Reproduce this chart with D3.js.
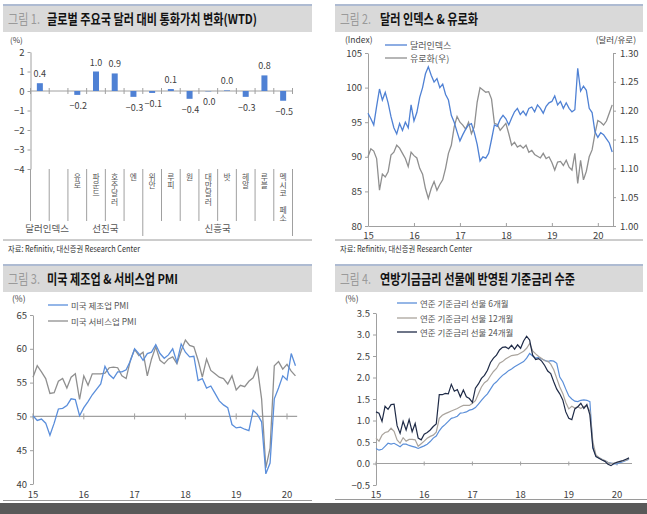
<!DOCTYPE html>
<html><head><meta charset="utf-8">
<script src="https://cdn.jsdelivr.net/npm/d3@7"></script>
<style>
body{margin:0;background:#fff}
svg{display:block}
text{font-family:"Noto Sans CJK KR","Noto Sans",sans-serif}
.vert{writing-mode:vertical-rl;text-orientation:upright}
</style>
</head><body>
<svg id="c" width="647" height="514"></svg>
<script>
// ---------------- DATA ----------------
// Figure 1: WTD change vs USD (%)
const wtdLabels = ["", "", "유로", "파운드", "호주달러", "엔", "위안", "루피", "원", "대만달러", "밧", "헤알", "루블", "멕시코\u3000페소"];
const wtdValues = [0.4, null, -0.2, 1.0, 0.9, -0.3, -0.1, 0.1, -0.4, -0.02, 0.03, -0.3, 0.8, -0.5];
const wtdGroupNames = ["달러인덱스", "선진국", "신흥국"];
const wtdGroupStarts = [0, 2, 6];
const wtdGroupEnds = [2, 6, 14];
const wtdTicks = [2, 1, 0, -1, -2, -3, -4];

// Figure 2: Dollar index & EUR/USD (step 1/16 year from "15")
const fxStart = 15, fxStep = 1 / 16;
const dxyValues = [96.3,95.5,94.6,97.3,99.8,98.2,99.3,97.8,95.8,94.2,
 93.3,94.8,93.8,95.0,94.2,97.5,95.2,96.4,98.6,100.0,
 102.0,103.0,101.8,100.8,101.3,100.0,100.5,99.0,98.2,96.0,
 95.0,93.6,92.3,93.2,94.0,94.6,94.8,93.5,91.8,89.4,
 90.0,89.8,90.5,92.5,94.6,94.4,95.4,96.0,95.5,94.6,
 95.6,96.5,97.0,96.1,96.6,96.0,97.0,97.2,96.5,97.5,
 97.0,96.3,97.3,97.8,98.0,98.8,97.5,98.0,97.0,97.8,
 97.0,96.5,96.8,102.8,99.5,100.2,99.6,97.0,96.4,93.6,
 92.8,93.5,93.2,92.6,92.0,90.7];
const eurValues = [1.120,1.134,1.130,1.117,1.062,1.090,1.085,1.094,1.123,1.128,
 1.140,1.135,1.126,1.117,1.103,1.128,1.122,1.118,1.100,1.090,
 1.065,1.048,1.065,1.077,1.062,1.072,1.080,1.100,1.126,1.140,
 1.172,1.190,1.180,1.175,1.168,1.180,1.160,1.172,1.215,1.240,
 1.236,1.232,1.233,1.220,1.178,1.176,1.166,1.172,1.178,1.160,
 1.140,1.145,1.137,1.140,1.135,1.140,1.128,1.131,1.124,1.121,
 1.118,1.126,1.117,1.120,1.110,1.097,1.111,1.112,1.105,1.114,
 1.102,1.097,1.126,1.074,1.114,1.080,1.095,1.120,1.132,1.160,
 1.183,1.180,1.175,1.182,1.196,1.210];
const fxLeftTicks = [80, 85, 90, 95, 100, 105];
const fxRightTicks = [1.00, 1.05, 1.10, 1.15, 1.20, 1.25, 1.30];
const yearTicks = [15, 16, 17, 18, 19, 20];

// Figure 3: US PMI (monthly)
const pmiStart = 15, pmiStep = 1 / 12;
const pmiMfg = [50.1,49.4,49.6,49.0,47.2,49.0,51.1,51.2,51.6,52.6,
 52.5,50.1,51.3,52.2,53.2,54.0,54.8,57.4,56.2,55.6,
 56.6,56.6,56.9,58.2,60.0,59.3,58.3,59.3,59.5,60.6,
 59.3,58.6,59.1,60.0,58.0,60.7,59.5,58.8,58.9,55.3,
 55.6,54.2,54.5,53.4,52.3,51.7,51.3,48.8,48.3,48.4,
 48.1,47.9,50.9,50.3,49.2,41.5,43.1,52.6,54.2,56.0,
 55.4,59.3,57.5];
const pmiSvc = [55.8,57.5,56.6,55.6,53.4,53.5,55.2,55.6,54.2,55.8,
 56.3,52.5,56.0,54.6,56.3,56.3,56.3,56.4,57.2,57.3,
 57.2,56.0,55.6,58.3,59.9,59.0,59.5,56.0,58.5,60.3,
 58.3,57.8,58.5,58.8,57.8,59.7,61.3,60.5,60.3,58.3,
 55.8,58.5,56.8,56.3,55.8,55.6,54.8,56.0,53.9,54.6,
 54.4,55.2,55.7,57.2,52.6,42.4,45.3,57.5,58.1,57.0,
 57.7,56.7,56.0];
const pmiTicks = [40, 45, 50, 55, 60, 65];

// Figure 4: policy rate implied by fed funds futures (step 1/16 year)
const ffStart = 15, ffStep = 1 / 16;
const ff6m = [0.35,0.31,0.33,0.40,0.47,0.45,0.47,0.43,0.39,0.45,
 0.45,0.42,0.40,0.38,0.35,0.38,0.41,0.45,0.51,0.59,
 0.64,0.76,0.85,0.91,0.98,1.05,1.07,1.10,1.17,1.18,
 1.20,1.24,1.26,1.30,1.38,1.47,1.55,1.62,1.73,1.84,
 1.90,1.98,2.05,2.10,2.16,2.20,2.25,2.29,2.33,2.37,
 2.45,2.56,2.50,2.45,2.47,2.43,2.40,2.37,2.39,2.38,
 2.33,2.01,1.90,1.73,1.57,1.50,1.45,1.44,1.47,1.48,
 1.47,1.44,0.38,0.18,0.13,0.10,0.06,0.03,0.01,-0.01,
 -0.01,0.02,0.04,0.07,0.10];
const ff12m = [0.59,0.52,0.66,0.72,0.74,0.82,0.75,0.55,0.47,0.60,
 0.52,0.56,0.56,0.55,0.40,0.46,0.52,0.59,0.63,0.66,
 0.73,1.05,1.12,1.16,1.19,1.22,1.25,1.28,1.32,1.35,
 1.35,1.35,1.40,1.46,1.62,1.78,1.88,1.93,2.04,2.14,
 2.21,2.33,2.37,2.43,2.47,2.51,2.52,2.53,2.57,2.61,
 2.68,2.79,2.62,2.55,2.49,2.44,2.39,2.38,2.31,2.18,
 1.98,1.78,1.63,1.42,1.27,1.33,1.29,1.32,1.28,1.33,
 1.33,1.22,0.50,0.20,0.14,0.10,0.07,0.03,0.00,0.01,
 0.02,0.04,0.06,0.08,0.11];
const ff24m = [1.20,1.17,0.98,1.33,1.26,1.37,1.38,0.88,0.70,0.98,
 0.78,1.02,0.74,0.93,0.59,0.55,0.68,0.72,0.78,0.86,
 0.92,1.60,1.60,1.63,1.62,1.84,1.68,1.72,1.55,1.71,
 1.55,1.51,1.42,1.75,1.85,1.98,2.05,2.17,2.35,2.45,
 2.52,2.64,2.70,2.71,2.67,2.75,2.66,2.76,2.68,2.85,
 2.96,2.87,2.52,2.42,2.44,2.38,2.28,2.15,2.09,1.90,
 1.73,1.62,1.48,1.20,1.05,1.02,1.27,1.32,1.40,1.28,
 1.37,1.13,0.36,0.16,0.12,0.08,0.05,-0.02,-0.05,0.00,
 0.03,0.05,0.07,0.10,0.13];
const ffTicks = [-0.5, 0, 0.5, 1.0, 1.5, 2.0, 2.5, 3.0, 3.5];

// ---------------- DRAW ----------------
const svg = d3.select("#c");
const TICK_C = "#404040", AX_C = "#a0a0a0";
const BLUE = "#4f81d4", GRAY = "#8f8f8f";

function titleBar(x0, x1, y0, num, numW, title, titleX, titleW) {
  svg.append("rect").attr("x", x0).attr("y", y0).attr("width", x1 - x0).attr("height", 27).attr("fill", "#d9d9d9");
  svg.append("line").attr("x1", x0).attr("x2", x1).attr("y1", y0).attr("y2", y0).attr("stroke", "#aebbd2").attr("stroke-width", 2);
  svg.append("text").attr("x", x0 + 5).attr("y", y0 + 19).attr("font-size", 13.5).attr("fill", "#9a9a9a")
    .attr("textLength", numW).attr("lengthAdjust", "spacingAndGlyphs").text(num);
  svg.append("text").attr("x", titleX).attr("y", y0 + 19).attr("font-size", 13.5).attr("font-weight", "bold").attr("fill", "#111")
    .attr("textLength", titleW).attr("lengthAdjust", "spacingAndGlyphs").text(title);
}
function source(x0, x1, y) {
  svg.append("line").attr("x1", x0).attr("x2", x1).attr("y1", y).attr("y2", y).attr("stroke", "#9a9a9a");
  svg.append("text").attr("x", x0 + 5).attr("y", y + 11.5).attr("font-size", 8.5).attr("fill", "#333")
    .attr("textLength", 132).attr("lengthAdjust", "spacingAndGlyphs").text("자료: Refinitiv, 대신증권 Research Center");
}
function styleAxis(g, fs) {
  g.selectAll("path,line").attr("stroke", AX_C);
  g.selectAll("text").attr("fill", TICK_C).attr("font-size", fs || 9.5);
}

titleBar(3, 312, 5, "그림 1.", 32, "글로벌 주요국 달러 대비 통화가치 변화(WTD)", 47, 210);
titleBar(335, 643, 5, "그림 2.", 31, "달러 인덱스 & 유로화", 380, 98);
titleBar(3, 312, 265, "그림 3.", 32, "미국 제조업 & 서비스업 PMI", 47, 131);
titleBar(335, 643, 265, "그림 4.", 31, "연방기금금리 선물에 반영된 기준금리 수준", 380, 195);
source(3, 312, 240);
source(335, 643, 240);

// ---- Panel 1 ----
const p1x = d3.scaleBand().domain(d3.range(wtdLabels.length)).range([30.5, 292.5]);
const p1y = d3.scaleLinear().domain([-4, 2]).range([169, 52]);
const bw = p1x.bandwidth();
const g1 = svg.append("g");
const ax1 = g1.append("g").attr("transform", "translate(30.5,0)")
  .call(d3.axisLeft(p1y).tickValues(wtdTicks).tickSize(3).tickSizeOuter(0).tickFormat(d3.format("d")));
styleAxis(ax1);
g1.append("text").attr("x", 10).attr("y", 42.5).attr("font-size", 8).attr("fill", TICK_C).text("(%)");
g1.append("line").attr("x1", 30.5).attr("x2", 292.5).attr("y1", p1y(0)).attr("y2", p1y(0)).attr("stroke", AX_C);
const bounds = d3.range(wtdLabels.length + 1).map(i => i < wtdLabels.length ? p1x(i) : p1x.range()[1]);
g1.selectAll(".zt").data(bounds).join("line").attr("x1", d => d).attr("x2", d => d)
  .attr("y1", p1y(0) - 3).attr("y2", p1y(0) + 3).attr("stroke", AX_C);
const barIdx = d3.range(wtdValues.length).filter(i => wtdValues[i] != null);
g1.selectAll(".bar").data(barIdx).join("rect")
  .attr("x", i => p1x(i) + bw / 2 - 3).attr("width", 6)
  .attr("y", i => Math.min(p1y(wtdValues[i]), p1y(0)))
  .attr("height", i => Math.abs(p1y(wtdValues[i]) - p1y(0)))
  .attr("fill", BLUE);
const fmtLbl = v => Math.abs(v) < 0.05 ? "0.0" : (v < 0 ? "−" : "") + Math.abs(v).toFixed(1);
g1.selectAll(".lbl").data(barIdx).join("text")
  .attr("x", i => p1x(i) + bw / 2 + (wtdValues[i] < 0 ? 1 : 0))
  .attr("y", i => wtdValues[i] >= 0 ? p1y(wtdValues[i]) - 6 : p1y(wtdValues[i]) + 14)
  .attr("text-anchor", "middle").attr("font-size", 9).attr("fill", TICK_C)
  .text(i => fmtLbl(wtdValues[i]));
// category labels (vertical)
g1.selectAll(".cat").data(d3.range(wtdLabels.length).filter(i => wtdLabels[i])).join("text")
  .attr("class", "vert")
  .attr("x", i => p1x(i) + bw / 2).attr("y", 173)
  .attr("font-size", 7.8).attr("letter-spacing", 0.5).attr("fill", "#555")
  .text(i => wtdLabels[i]);
const longBounds = new Set([wtdGroupStarts[2], wtdGroupEnds[2]]);
g1.selectAll(".sep").data(d3.range(bounds.length)).join("line")
  .attr("x1", i => bounds[i]).attr("x2", i => bounds[i])
  .attr("y1", 169).attr("y2", i => longBounds.has(i) ? 236 : 221)
  .attr("stroke", AX_C);
wtdGroupNames.forEach((name, gi) => {
  const xa = bounds[wtdGroupStarts[gi]], xb = bounds[wtdGroupEnds[gi]];
  g1.append("text").attr("x", (xa + xb) / 2 - (gi === 0 ? 2 : 0)).attr("y", 231.5).attr("text-anchor", "middle")
    .attr("font-size", 9.5).attr("fill", "#555").text(name);
});

// ---- Panel 2 ----
const p2x = d3.scaleLinear().domain([15, 20.33]).range([368, 613]);
const p2yL = d3.scaleLinear().domain([80, 105]).range([226, 53]);
const p2yR = d3.scaleLinear().domain([1.0, 1.3]).range([226, 53]);
const g2 = svg.append("g");
const a2l = g2.append("g").attr("transform", "translate(368,0)")
  .call(d3.axisLeft(p2yL).tickValues(fxLeftTicks).tickSize(3).tickSizeOuter(0));
styleAxis(a2l);
const a2r = g2.append("g").attr("transform", "translate(613,0)")
  .call(d3.axisRight(p2yR).tickValues(fxRightTicks).tickSize(3).tickSizeOuter(0).tickFormat(d3.format(".2f")));
styleAxis(a2r); a2r.selectAll("text").attr("x", 7);
const a2b = g2.append("g").attr("transform", "translate(0,226)")
  .call(d3.axisBottom(p2x).tickValues(yearTicks).tickSize(3).tickSizeOuter(0).tickFormat(d3.format("d")));
styleAxis(a2b); a2b.selectAll("line").attr("y2", -3); a2b.selectAll("text").attr("y", 6);
g2.append("text").attr("x", 345).attr("y", 43).attr("font-size", 8.5).attr("fill", TICK_C).text("(Index)");
g2.append("text").attr("x", 636).attr("y", 43).attr("text-anchor", "end").attr("font-size", 8.5).attr("fill", TICK_C).text("(달러/유로)");
const lineEur = d3.line().x((d, k) => p2x(fxStart + k * fxStep)).y(d => p2yR(d));
const lineDxy = d3.line().x((d, k) => p2x(fxStart + k * fxStep)).y(d => p2yL(d));
g2.append("path").attr("d", lineEur(eurValues)).attr("fill", "none").attr("stroke", GRAY).attr("stroke-width", 1.3);
g2.append("path").attr("d", lineDxy(dxyValues)).attr("fill", "none").attr("stroke", BLUE).attr("stroke-width", 1.3);
[["달러인덱스", BLUE, 45], ["유로화(우)", GRAY, 58]].forEach(([t, c, y]) => {
  g2.append("line").attr("x1", 385).attr("x2", 407).attr("y1", y).attr("y2", y).attr("stroke", c).attr("stroke-width", 1.3);
  g2.append("text").attr("x", 410).attr("y", y + 3.5).attr("font-size", 9).attr("fill", "#555").text(t);
});

// ---- Panel 3 ----
const p3x = d3.scaleLinear().domain([15, 20]).range([33, 287]);
const p3y = d3.scaleLinear().domain([40, 65]).range([484, 315]);
const g3 = svg.append("g");
const a3l = g3.append("g").attr("transform", "translate(33,0)")
  .call(d3.axisLeft(p3y).tickValues(pmiTicks).tickSize(3).tickSizeOuter(0));
styleAxis(a3l);
g3.append("line").attr("x1", 33).attr("x2", p3x(20.2)).attr("y1", p3y(50)).attr("y2", p3y(50)).attr("stroke", AX_C).attr("stroke-width", 1.2);
g3.selectAll(".xt").data(yearTicks).join("line").attr("x1", d => p3x(d)).attr("x2", d => p3x(d))
  .attr("y1", p3y(50) - 3).attr("y2", p3y(50) + 3).attr("stroke", AX_C);
g3.selectAll(".xl").data(yearTicks).join("text").attr("x", d => p3x(d)).attr("y", 497.5)
  .attr("text-anchor", "middle").attr("font-size", 9.5).attr("fill", TICK_C).text(d => d);
g3.append("text").attr("x", 12).attr("y", 302).attr("font-size", 8.5).attr("fill", TICK_C).text("(%)");
const lineP = d3.line().x((d, i) => p3x(pmiStart + i * pmiStep)).y(d => p3y(d));
g3.append("path").attr("d", lineP(pmiSvc)).attr("fill", "none").attr("stroke", GRAY).attr("stroke-width", 1.3);
g3.append("path").attr("d", lineP(pmiMfg)).attr("fill", "none").attr("stroke", "#5a8edb").attr("stroke-width", 1.3);
[["미국 제조업 PMI", "#5a8edb", 305], ["미국 서비스업 PMI", GRAY, 321]].forEach(([t, c, y]) => {
  g3.append("line").attr("x1", 48).attr("x2", 68).attr("y1", y).attr("y2", y).attr("stroke", c).attr("stroke-width", 1.3);
  g3.append("text").attr("x", 71).attr("y", y + 3.5).attr("font-size", 8.5).attr("fill", "#555").text(t);
});

// ---- Panel 4 ----
const p4x = d3.scaleLinear().domain([15, 20]).range([376, 617]);
const p4y = d3.scaleLinear().domain([-0.5, 3.5]).range([485, 313]);
const g4 = svg.append("g");
const a4l = g4.append("g").attr("transform", "translate(376,0)")
  .call(d3.axisLeft(p4y).tickValues(ffTicks).tickSize(3).tickSizeOuter(0).tickFormat(d3.format(".1f")));
styleAxis(a4l);
g4.append("line").attr("x1", 376).attr("x2", 632).attr("y1", p4y(0)).attr("y2", p4y(0)).attr("stroke", AX_C).attr("stroke-width", 1.2);
g4.selectAll(".xt").data(yearTicks).join("line").attr("x1", d => p4x(d)).attr("x2", d => p4x(d))
  .attr("y1", p4y(0) - 2).attr("y2", p4y(0) + 2).attr("stroke", AX_C);
g4.selectAll(".xl").data(yearTicks).join("text").attr("x", d => p4x(d)).attr("y", 497.5)
  .attr("text-anchor", "middle").attr("font-size", 9.5).attr("fill", TICK_C).text(d => d);
g4.append("text").attr("x", 345).attr("y", 302).attr("font-size", 8.5).attr("fill", TICK_C).text("(%)");
const lineF = d3.line().x((d, k) => p4x(ffStart + k * ffStep)).y(d => p4y(d));
const ffSeries = [["연준 기준금리 선물 6개월", ff6m, "#5b8fd9", 303], ["연준 기준금리 선물 12개월", ff12m, "#aaa49d", 318], ["연준 기준금리 선물 24개월", ff24m, "#1f2b47", 332]];
ffSeries.forEach(([t, arr, c, y]) => {
  g4.append("path").attr("d", lineF(arr)).attr("fill", "none").attr("stroke", c).attr("stroke-width", 1.2);
  g4.append("line").attr("x1", 397).attr("x2", 417).attr("y1", y).attr("y2", y).attr("stroke", c).attr("stroke-width", 1.3);
  g4.append("text").attr("x", 420).attr("y", y + 3.5).attr("font-size", 8.5).attr("fill", "#555").text(t);
});

// bottom rules & footer band
svg.append("line").attr("x1", 3).attr("x2", 312).attr("y1", 500.5).attr("y2", 500.5).attr("stroke", "#9a9a9a");
svg.append("line").attr("x1", 335).attr("x2", 647).attr("y1", 499.5).attr("y2", 499.5).attr("stroke", "#9a9a9a");
svg.append("rect").attr("x", 0).attr("y", 503).attr("width", 647).attr("height", 11).attr("fill", "#595959");
</script>
</body></html>
